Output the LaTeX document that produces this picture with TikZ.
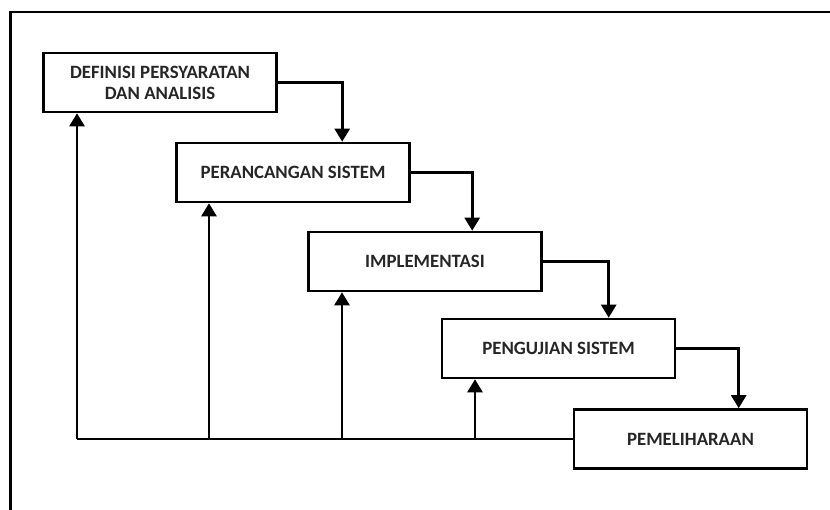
\documentclass[tikz,border=0pt]{standalone}
\usepackage{fontspec}
\setmainfont{Carlito}
\usetikzlibrary{arrows.meta,calc}
\begin{document}
\begin{tikzpicture}[x=1pt,y=-1pt,
  stagebox/.style={draw=black,line width=2.6pt,minimum width=233pt,minimum height=59pt,
    inner sep=0pt,align=center,font=\fontsize{18.8}{21}\selectfont\bfseries,text=black!85},
  flow/.style={draw=black,line width=2.6pt,-{Triangle[width=15pt,length=13pt]}},
  frame/.style={draw=black,line width=2.6pt}]
\useasboundingbox (0,0) rectangle (830,510);
\draw[frame] (10.5,512) -- (10.5,12) -- (832,12);
\node[stagebox] (b1) at (160,82.5) {DEFINISI PERSYARATAN\\DAN ANALISIS};
\node[stagebox] (b2) at (293,172.5) {PERANCANGAN SISTEM};
\node[stagebox] (b3) at (425,261.5) {IMPLEMENTASI};
\node[stagebox] (b4) at (558.5,348.5) {PENGUJIAN SISTEM};
\node[stagebox] (b5) at (690.5,439) {PEMELIHARAAN};
% forward flow
\draw[flow] (b1.east) -| ($(b2.north west)+(167,0)$);
\draw[flow] (b2.east) -| ($(b3.north west)+(165,0)$);
\draw[flow] (b3.east) -| ($(b4.north west)+(168,0)$);
\draw[flow] (b4.east) -| ($(b5.north west)+(166,0)$);
% feedback
\coordinate (f1) at (77,439);
\coordinate (f2) at (209,439);
\coordinate (f3) at (342,439);
\coordinate (f4) at (475,439);
\draw[line width=2.6pt] (b5.west) -- (f1);
\draw[flow] (f1) -- (f1 |- b1.south);
\draw[flow] (f2) -- (f2 |- b2.south);
\draw[flow] (f3) -- (f3 |- b3.south);
\draw[flow] (f4) -- (f4 |- b4.south);
\end{tikzpicture}
\end{document}
